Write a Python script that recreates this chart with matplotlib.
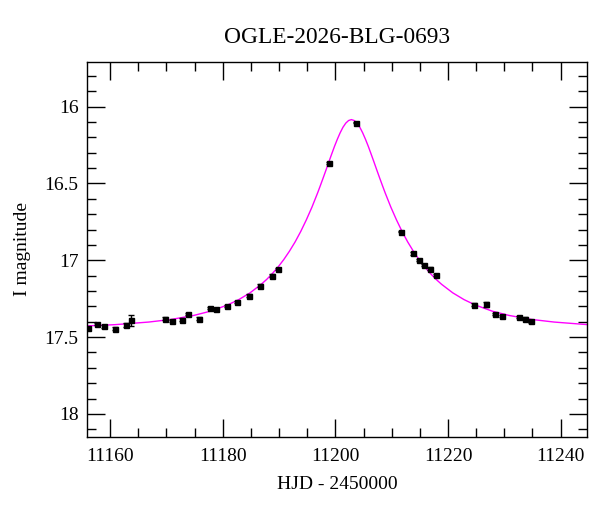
import matplotlib
matplotlib.use("Agg")
import matplotlib.pyplot as plt
from matplotlib.ticker import MultipleLocator

# photometry
hjd = [11156.0, 11157.75, 11158.9, 11160.8, 11162.8, 11163.7, 11169.8, 11170.95,
       11172.7, 11173.8, 11175.7, 11177.7, 11178.8, 11180.7, 11182.6, 11184.7,
       11186.7, 11188.7, 11189.9, 11198.8, 11203.6, 11211.6, 11213.7, 11214.8,
       11215.8, 11216.8, 11217.8, 11224.6, 11226.7, 11228.4, 11229.6, 11232.6,
       11233.6, 11234.7]
mag = [17.44, 17.416, 17.43, 17.444, 17.42, 17.39, 17.38, 17.395,
       17.386, 17.35, 17.38, 17.31, 17.32, 17.297, 17.27, 17.23,
       17.165, 17.10, 17.058, 16.368, 16.104, 16.813, 16.956, 17.0,
       17.03, 17.054, 17.097, 17.288, 17.286, 17.349, 17.362, 17.37,
       17.38, 17.396]
err = [0.008, 0.008, 0.008, 0.008, 0.015, 0.035, 0.008, 0.008,
       0.008, 0.008, 0.008, 0.008, 0.008, 0.008, 0.008, 0.008,
       0.008, 0.008, 0.008, 0.006, 0.006, 0.006, 0.008, 0.008,
       0.008, 0.008, 0.008, 0.008, 0.015, 0.008, 0.008, 0.008,
       0.008, 0.01]

# model curve
model_t = [11155.85, 11160.85, 11166.85, 11170.85, 11174.85, 11177.85, 11180.85,
           11182.85, 11184.85, 11186.85, 11187.85, 11188.85, 11189.85, 11190.85,
           11191.85, 11192.85, 11193.85, 11194.85, 11195.85, 11196.85, 11197.35,
           11197.85, 11198.35, 11198.85, 11199.35, 11199.85, 11200.35, 11200.85,
           11201.35, 11201.85, 11202.35, 11202.85, 11203.35, 11203.85, 11204.35,
           11204.85, 11205.35, 11205.85, 11206.35, 11206.85, 11207.35, 11207.85,
           11208.35, 11208.85, 11209.85, 11210.85, 11211.85, 11212.85, 11213.85,
           11214.85, 11215.85, 11216.85, 11217.85, 11218.85, 11220.85, 11222.85,
           11224.85, 11227.85, 11230.85, 11234.85, 11238.85, 11244.85]
model_m = [17.427, 17.419, 17.402, 17.385, 17.359, 17.331, 17.291,
           17.256, 17.212, 17.156, 17.123, 17.085, 17.043, 16.995,
           16.941, 16.881, 16.813, 16.737, 16.654, 16.562, 16.513,
           16.463, 16.412, 16.360, 16.309, 16.259, 16.213, 16.171,
           16.135, 16.108, 16.091, 16.085, 16.091, 16.108, 16.135,
           16.171, 16.213, 16.259, 16.309, 16.360, 16.412, 16.463,
           16.513, 16.562, 16.654, 16.737, 16.813, 16.881, 16.941,
           16.995, 17.043, 17.085, 17.123, 17.156, 17.212, 17.256,
           17.291, 17.331, 17.359, 17.385, 17.402, 17.419]

plt.rcParams['font.family'] = ['Liberation Serif', 'DejaVu Serif']
plt.rcParams['font.size'] = 14

fig = plt.figure(figsize=(6, 5.12), dpi=100)
ax = fig.add_axes([0.145, 0.147, 0.833, 0.732])

ax.plot(model_t, model_m, color='#ff00ff', lw=1.0, zorder=2)
ax.errorbar(hjd, mag, yerr=err, fmt='s', color='black', ms=3.6,
            elinewidth=1.0, capsize=2.2, capthick=1.0, zorder=3)

ax.set_xlim(11155.9, 11244.65)
ax.set_ylim(18.148, 15.71)

ax.xaxis.set_major_locator(MultipleLocator(20))
ax.xaxis.set_minor_locator(MultipleLocator(5))
ax.yaxis.set_major_locator(MultipleLocator(0.5))
ax.yaxis.set_minor_locator(MultipleLocator(0.1))
ax.yaxis.set_major_formatter(plt.FuncFormatter(lambda v, p: ('%g' % v)))

ax.tick_params(which='both', direction='in', top=True, right=True, width=1.0)
ax.tick_params(which='major', length=13)
ax.tick_params(which='minor', length=6.5)
ax.tick_params(axis='x', pad=8)
ax.tick_params(axis='y', pad=6)
for s in ax.spines.values():
    s.set_linewidth(1.0)

ax.set_title('OGLE-2026-BLG-0693', pad=14)
ax.set_xlabel('HJD - 2450000', labelpad=8)
ax.set_ylabel('I magnitude', labelpad=10)

fig.savefig('out.png', dpi=100)
